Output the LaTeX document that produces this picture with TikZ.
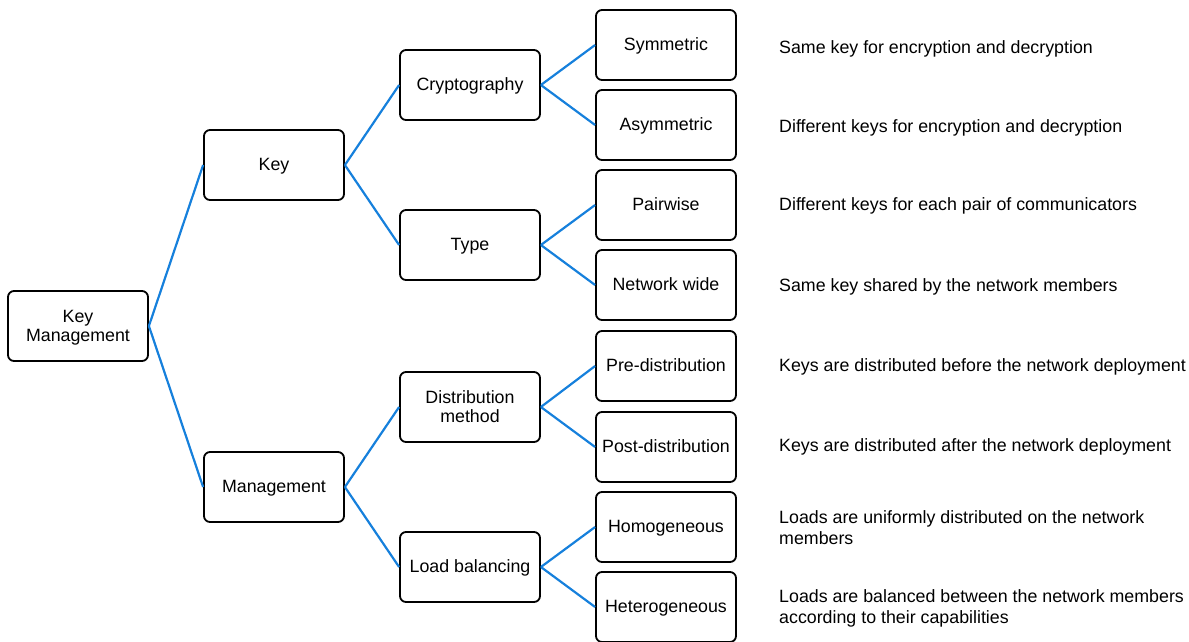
\documentclass[tikz,border=0pt]{standalone}
\usepackage{fontspec}
\setmainfont{Liberation Sans}
\begin{document}
\begin{tikzpicture}[x=1pt,y=-1pt,
  box/.style={draw=black, line width=1.8pt, rounded corners=6pt, minimum width=140pt, minimum height=70pt,
    align=center, font=\fontsize{17.8}{19}\selectfont, inner sep=2pt, text depth=1pt},
  desc/.style={anchor=west, align=left, font=\fontsize{17.8}{21}\selectfont, inner sep=0pt},
  link/.style={draw={rgb,255:red,22;green,128;blue,220}, line width=2.2pt}]
\useasboundingbox (0,0) rectangle (1189,641);
% root
\node[box] (km) at (78,326) {Key\\Management};
% second level
\node[box] (key) at (274,165) {Key};
\node[box] (mgmt) at (274,487) {Management};
% third level
\node[box] (crypto) at (470,85) {Cryptography};
\node[box] (type) at (470,245) {Type};
\node[box] (dist) at (470,407) {Distribution\\method};
\node[box] (load) at (470,567) {Load balancing};
% leaves
\node[box] (sym) at (666,45) {Symmetric};
\node[box] (asym) at (666,125) {Asymmetric};
\node[box] (pair) at (666,205) {Pairwise};
\node[box] (net) at (666,285) {Network wide};
\node[box] (pre) at (666,366) {Pre-distribution};
\node[box] (post) at (666,447) {Post-distribution};
\node[box] (homo) at (666,527) {Homogeneous};
\node[box] (hetero) at (666,607) {Heterogeneous};
% descriptions
\node[desc] (dsym) at (779,49) {Same key for encryption and decryption};
\node[desc] (dasym) at (779,128) {Different keys for encryption and decryption};
\node[desc] (dpair) at (779,206) {Different keys for each pair of communicators};
\node[desc] (dnet) at (779,287) {Same key shared by the network members};
\node[desc] (dpre) at (779,367) {Keys are distributed before the network deployment};
\node[desc] (dpost) at (779,447) {Keys are distributed after the network deployment};
\node[desc] (dhomo) at (779,528) {Loads are uniformly distributed on the network\\members};
\node[desc] (dhetero) at (779,608) {Loads are balanced between the network members\\according to their capabilities};
% connectors
\foreach \a/\b in {km/key, km/mgmt, key/crypto, key/type, mgmt/dist, mgmt/load,
  crypto/sym, crypto/asym, type/pair, type/net, dist/pre, dist/post, load/homo, load/hetero}
  \draw[link] (\a.east) -- (\b.west);
\end{tikzpicture}
\end{document}
